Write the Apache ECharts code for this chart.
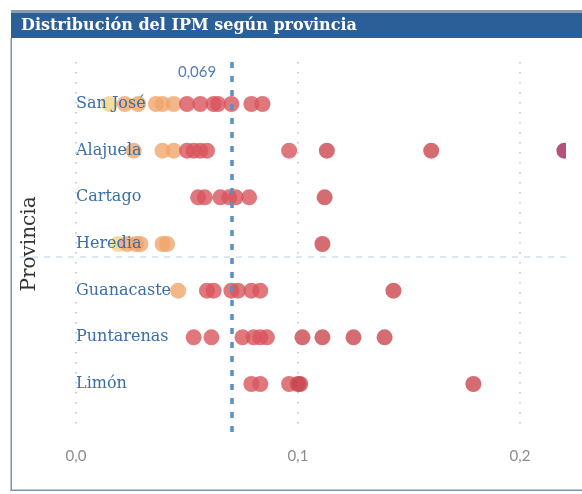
<!DOCTYPE html>
<html>
<head>
<meta charset="utf-8">
<script src="https://cdn.jsdelivr.net/npm/echarts@6/dist/echarts.min.js"></script>
<style>
html,body{margin:0;padding:0;background:#fff;}
#chart{width:582px;height:494px;}
</style>
</head>
<body>
<div id="chart"></div>
<script>
// ---- Data ----
const provinces = ['San José','Alajuela','Cartago','Heredia','Guanacaste','Puntarenas','Limón'];
const sanJose    = [0.015, 0.022, 0.028, 0.036, 0.039, 0.044, 0.050, 0.056, 0.062, 0.064, 0.070, 0.079, 0.084];
const alajuela   = [0.026, 0.039, 0.044, 0.050, 0.053, 0.056, 0.059, 0.096, 0.113, 0.160, 0.220];
const cartago    = [0.055, 0.058, 0.065, 0.069, 0.072, 0.078, 0.112];
const heredia    = [0.019, 0.023, 0.027, 0.029, 0.039, 0.041, 0.111];
const guanacaste = [0.046, 0.059, 0.062, 0.070, 0.073, 0.079, 0.083, 0.143];
const puntarenas = [0.053, 0.061, 0.075, 0.080, 0.083, 0.086, 0.102, 0.111, 0.125, 0.139];
const limon      = [0.079, 0.083, 0.096, 0.100, 0.101, 0.179];
const xTicks = [0, 0.1, 0.2];
const refValue = 0.069;
const refLabel = '0,069';
const titleText = 'Distribución del IPM según provincia';
const axisTitle = 'Provincia';

const valuesByProvince = [sanJose, alajuela, cartago, heredia, guanacaste, puntarenas, limon];
const points = [];
valuesByProvince.forEach((arr, i) => arr.forEach(v => points.push([v, provinces[i]])));

const chart = echarts.init(document.getElementById('chart'));
chart.setOption({
  animation: false,
  grid: [
    {left: 76, right: 62, top: 80.7, bottom: 86.7},
    {left: 76, right: 62, top: 62, bottom: 62}
  ],
  xAxis: [
    {gridIndex: 0, type: 'value', min: 0, max: 0.2, show: false},
    {gridIndex: 1, type: 'value', min: 0, max: 0.2, interval: 0.1,
     axisLine: {show: false}, axisTick: {show: false},
     splitLine: {show: true, lineStyle: {color: '#cfcfcf', width: 2, type: [1.5, 8.5]}},
     axisLabel: {color: '#8c8c8c', fontFamily: 'Lato', fontSize: 15, margin: 17,
       formatter: v => v.toFixed(1).replace('.', ',')}}
  ],
  yAxis: [
    {gridIndex: 0, type: 'category', data: provinces, inverse: true, z: 5,
     axisLine: {show: false}, axisTick: {show: false}, splitLine: {show: false},
     axisLabel: {inside: true, margin: 0, color: '#3a6ea8', fontFamily: 'DejaVu Serif', fontSize: 16, align: 'left'},
     name: axisTitle, nameLocation: 'middle', nameGap: 36, nameRotate: 90,
     nameTextStyle: {color: '#333', fontFamily: 'DejaVu Serif', fontSize: 20}},
    {gridIndex: 1, type: 'value', min: 0, max: 1, show: false}
  ],
  visualMap: {
    type: 'piecewise', show: false, seriesIndex: 0, dimension: 0,
    pieces: [
      {lt: 0.02, color: '#f3d383'},
      {gte: 0.02, lt: 0.047, color: '#f0a56b'},
      {gte: 0.047, lt: 0.1, color: '#d8555d'},
      {gte: 0.1, lt: 0.2, color: '#c9474f'},
      {gte: 0.2, color: '#a2255c'}
    ]
  },
  series: [
    {type: 'scatter', xAxisIndex: 0, yAxisIndex: 0, data: points, symbolSize: 16, clip: false,
     itemStyle: {opacity: 0.8}, z: 3},
    {type: 'scatter', xAxisIndex: 1, yAxisIndex: 1, data: [], z: 4,
     markLine: {silent: true, symbol: 'none', label: {show: false},
       lineStyle: {color: '#5d8ec4', width: 3.5, type: [6, 8]},
       data: [{xAxis: refValue}]},
     markPoint: {silent: true, symbol: 'circle', symbolSize: 0,
       label: {show: true, position: 'left', distance: 13, formatter: refLabel, color: '#4d7eb4', fontFamily: 'Lato', fontSize: 15},
       data: [{coord: [refValue, 0.972]}]}
    }
  ],
  graphic: [
    {type: 'line', z: 1, shape: {x1: 20, y1: 257, x2: 566, y2: 257},
     style: {stroke: '#dde7f1', lineWidth: 2, lineDash: [6, 6]}},
    {type: 'rect', z: 100, zlevel: 1, shape: {x: 566, y: 39, width: 16, height: 450}, style: {fill: '#fff'}},
    {type: 'rect', z: 101, zlevel: 1, shape: {x: 11, y: 10, width: 571, height: 3}, style: {fill: '#8d9cad'}},
    {type: 'rect', z: 101, zlevel: 1, shape: {x: 11, y: 13, width: 571, height: 25}, style: {fill: '#2a5f98'}},
    {type: 'text', z: 102, zlevel: 1, style: {x: 21, y: 26, text: titleText, fill: '#fff', font: 'bold 16px "DejaVu Serif"', textVerticalAlign: 'middle'}},
    {type: 'rect', z: 101, zlevel: 1, shape: {x: 10.5, y: 38, width: 1.5, height: 453}, style: {fill: '#7f93aa'}},
    {type: 'rect', z: 101, zlevel: 1, shape: {x: 10.5, y: 489.5, width: 572, height: 1.5}, style: {fill: '#7f93aa'}}
  ]
});
</script>
</body>
</html>
